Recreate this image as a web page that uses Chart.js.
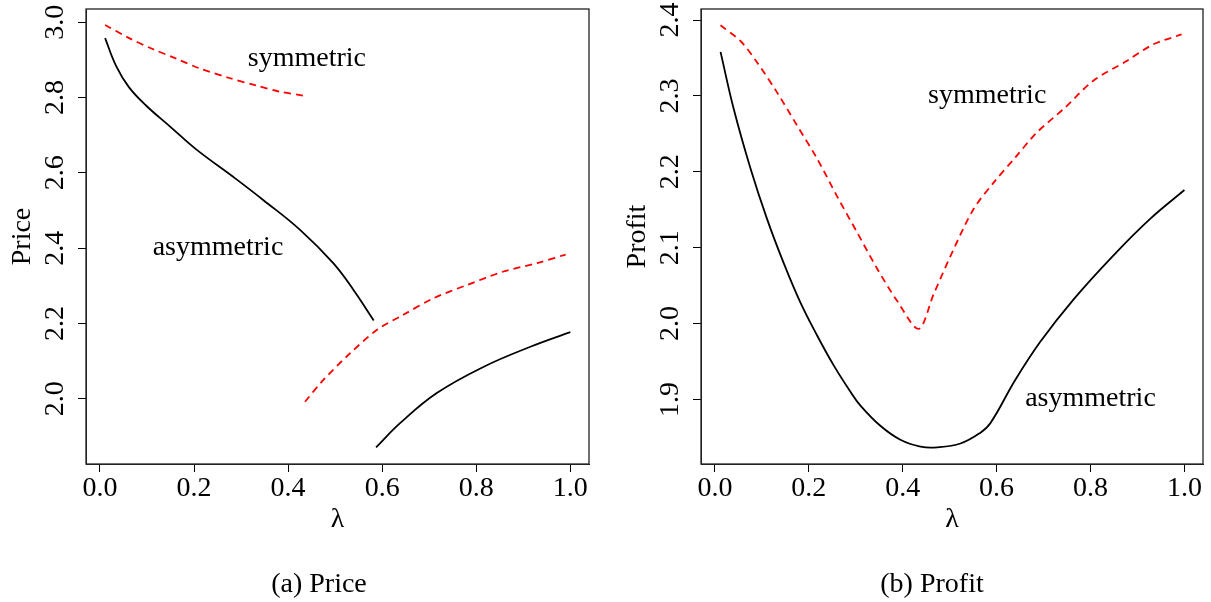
<!DOCTYPE html>
<html lang="en">
<head>
<meta charset="UTF-8">
<title>Price and Profit</title>
<style>
  body { margin: 0; background: #fff; width: 1211px; height: 602px; position: relative; overflow: hidden; font-family: 'Liberation Serif', serif; }
  canvas { position: absolute; top: 0; }
  #priceChart { left: 0; }
  #profitChart { left: 615px; }
  .caption { position: absolute; top: 569px; width: 240px; text-align: center; font-size: 28px; line-height: 28px; color: #000; }
</style>
</head>
<body>
<canvas id="priceChart" width="605" height="602"></canvas>
<canvas id="profitChart" width="596" height="602"></canvas>
<div class="caption" style="left:199px">(a) Price</div>
<div class="caption" style="left:812px">(b) Profit</div>
<script src="https://cdn.jsdelivr.net/npm/chart.js"></script>
<script>
// lambda axis
const xTicks = [0, 0.2, 0.4, 0.6, 0.8, 1.0];
const xMin = -0.0296, xMax = 1.0396;

// (a) price
const priceTicks = [2.0, 2.2, 2.4, 2.6, 2.8, 3.0];
const priceAsymLowLam = [0.011, 0.034, 0.062, 0.098, 0.151, 0.204, 0.289, 0.347, 0.426, 0.496, 0.539, 0.582];
const priceAsymLowVal = [2.958, 2.885, 2.827, 2.779, 2.721, 2.663, 2.584, 2.528, 2.448, 2.360, 2.289, 2.208];
const priceAsymHighLam = [0.587, 0.638, 0.716, 0.816, 0.915, 1.0];
const priceAsymHighVal = [1.871, 1.935, 2.015, 2.085, 2.138, 2.177];
const priceSymLowLam = [0.011, 0.062, 0.112, 0.161, 0.211, 0.275, 0.332, 0.381, 0.433];
const priceSymLowVal = [2.993, 2.958, 2.929, 2.904, 2.878, 2.852, 2.832, 2.816, 2.805];
const priceSymHighLam = [0.436, 0.475, 0.532, 0.589, 0.645, 0.709, 0.780, 0.858, 0.929, 0.990];
const priceSymHighVal = [1.992, 2.050, 2.121, 2.183, 2.223, 2.267, 2.302, 2.338, 2.360, 2.383];

// (b) profit
const profitTicks = [1.9, 2.0, 2.1, 2.2, 2.3, 2.4];
const profitAsymLam = [0.012, 0.040, 0.076, 0.111, 0.147, 0.182, 0.218, 0.253, 0.289, 0.310, 0.353, 0.395, 0.438, 0.473, 0.523, 0.565, 0.587, 0.640, 0.693, 0.764, 0.849, 0.927, 1.0];
const profitAsymVal = [2.358, 2.283, 2.204, 2.138, 2.079, 2.028, 1.984, 1.945, 1.910, 1.892, 1.865, 1.847, 1.838, 1.837, 1.842, 1.856, 1.869, 1.926, 1.976, 2.032, 2.090, 2.138, 2.176];
const profitSymLam = [0.012, 0.055, 0.090, 0.133, 0.175, 0.218, 0.260, 0.303, 0.346, 0.388, 0.434, 0.466, 0.5085, 0.551, 0.594, 0.640, 0.686, 0.743, 0.806, 0.877, 0.934, 0.994];
const profitSymVal = [2.393, 2.372, 2.344, 2.304, 2.261, 2.217, 2.168, 2.120, 2.072, 2.030, 1.993, 2.039, 2.098, 2.151, 2.186, 2.219, 2.252, 2.283, 2.320, 2.346, 2.368, 2.381];

const font = { family: "'Liberation Serif', serif", size: 28 };

function pts(lam, val) {
  return lam.map((l, i) => ({ x: l, y: val[i] }));
}

function solid(lam, val) {
  return { data: pts(lam, val), borderColor: '#000', borderWidth: 1.8, tension: 0.4 };
}

function dashed(lam, val) {
  return { data: pts(lam, val), borderColor: '#ff0000', borderWidth: 1.8, borderDash: [7, 5], tension: 0.3 };
}

// box round the plot region + text labels on the curves
const frameAndNotes = {
  id: 'frameAndNotes',
  afterDatasetsDraw(chart, args, opts) {
    const { ctx, chartArea: a, scales: { x, y } } = chart;
    ctx.save();
    ctx.strokeStyle = '#222';
    ctx.lineWidth = 1.3;
    ctx.strokeRect(a.left, a.top, a.right - a.left, a.bottom - a.top);
    ctx.font = "28px 'Liberation Serif'";
    ctx.fillStyle = '#000';
    ctx.textAlign = 'center';
    ctx.textBaseline = 'alphabetic';
    (opts.notes || []).forEach(n => ctx.fillText(n.text, x.getPixelForValue(n.x), y.getPixelForValue(n.y)));
    ctx.restore();
  }
};

function makeChart(id, datasets, yMin, yMax, yTicks, yTitle, notes, rightPad) {
  return new Chart(document.getElementById(id), {
    type: 'line',
    data: { datasets },
    plugins: [frameAndNotes],
    options: {
      responsive: false,
      animation: false,
      layout: { padding: { left: 0, top: 9, right: rightPad, bottom: 58 } },
      elements: { point: { radius: 0 } },
      plugins: {
        legend: { display: false },
        tooltip: { enabled: false },
        frameAndNotes: { notes }
      },
      scales: {
        x: {
          type: 'linear', min: xMin, max: xMax,
          afterBuildTicks: s => { s.ticks = xTicks.map(v => ({ value: v })); },
          afterFit: s => { s.height = 80; s.paddingLeft = 0; s.paddingRight = 0; },
          ticks: { font, color: '#000', padding: 0, maxRotation: 0, autoSkip: false, callback: v => v.toFixed(1) },
          grid: { drawOnChartArea: false, drawTicks: true, tickLength: 8, color: '#000' },
          border: { display: true, color: '#222' },
          title: { display: true, text: 'λ', font, color: '#000', padding: { top: 0, bottom: 8 } }
        },
        y: {
          type: 'linear', min: yMin, max: yMax,
          afterBuildTicks: s => { s.ticks = yTicks.map(v => ({ value: v })); },
          afterFit: s => { s.width = 86; s.paddingTop = 0; s.paddingBottom = 0; },
          ticks: { font, color: '#000', padding: 5, minRotation: 90, maxRotation: 90, crossAlign: 'center', autoSkip: false, callback: v => v.toFixed(1) },
          grid: { drawOnChartArea: false, drawTicks: true, tickLength: 8, color: '#000' },
          border: { display: true, color: '#222' },
          title: { display: true, text: yTitle, font, color: '#000', padding: { top: 6, bottom: 0 } }
        }
      }
    }
  });
}

makeChart('priceChart', [
  solid(priceAsymLowLam, priceAsymLowVal),
  solid(priceAsymHighLam, priceAsymHighVal),
  dashed(priceSymLowLam, priceSymLowVal),
  dashed(priceSymHighLam, priceSymHighVal)
], 1.8266, 3.0353, priceTicks, 'Price', [
  { text: 'symmetric', x: 0.440, y: 2.884 },
  { text: 'asymmetric', x: 0.251, y: 2.382 }
], 16);

makeChart('profitChart', [
  solid(profitAsymLam, profitAsymVal),
  dashed(profitSymLam, profitSymVal)
], 1.815, 2.4145, profitTicks, 'Profit', [
  { text: 'symmetric', x: 0.580, y: 2.291 },
  { text: 'asymmetric', x: 0.800, y: 1.891 }
], 8);
</script>
</body>
</html>
